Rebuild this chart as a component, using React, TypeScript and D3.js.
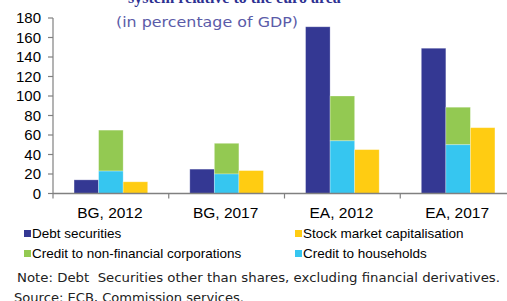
import React, { useRef, useEffect } from 'react'
import * as d3 from 'd3'

const categories = ['BG, 2012', 'BG, 2017', 'EA, 2012', 'EA, 2017']
const debtSecurities = [14, 25, 171, 149]
const creditHouseholds = [23, 20, 54, 50]
const creditCorporations = [42, 31.5, 46, 38.5]
const stockMarket = [12, 23.5, 45, 67.5]
const yTicks = [0, 20, 40, 60, 80, 100, 120, 140, 160, 180]

const colors = {
  debt: '#343893',
  corp: '#93c952',
  house: '#36c6f0',
  stock: '#ffcc12'
}

const legendItems = [
  { label: 'Debt securities', color: colors.debt, col: 0, row: 0 },
  { label: 'Stock market capitalisation', color: colors.stock, col: 1, row: 0 },
  { label: 'Credit to non-financial corporations', color: colors.corp, col: 0, row: 1 },
  { label: 'Credit to households', color: colors.house, col: 1, row: 1 }
]

const W = 507
const H = 301
const margin = { left: 53, top: 18, bottom: 193.5 }
const plotRight = 516

const App: React.FC = () => {
  const svgRef = useRef<SVGSVGElement>(null)

  useEffect(() => {
    if (!svgRef.current) return
    const svg = d3.select(svgRef.current)
    svg.selectAll('*').remove()

    const x = d3.scaleBand<string>()
      .domain(categories)
      .range([margin.left, plotRight])
      .paddingInner(0)
      .paddingOuter(0)
    const barW = x.bandwidth() * 0.212
    const inner = d3.scaleBand<string>()
      .domain(['debt', 'credit', 'stock'])
      .range([0, barW * 3])
    const groupOffset = (x.bandwidth() - barW * 3) / 2

    const y = d3.scaleLinear().domain([0, 180]).range([margin.bottom, margin.top])

    // title (cut off at top)
    svg.append('text')
      .attr('x', 128).attr('y', 3)
      .style('font-family', '"Liberation Serif", serif')
      .style('font-weight', 'bold')
      .style('font-size', '16px')
      .style('fill', '#2e3192')
      .text('system relative to the euro area')

    svg.append('text')
      .attr('x', 116).attr('y', 27)
      .style('font-family', '"DejaVu Sans", sans-serif')
      .style('font-size', '14.5px')
      .style('fill', '#5b5ba8')
      .attr('textLength', 182)
      .attr('lengthAdjust', 'spacingAndGlyphs')
      .text('(in percentage of GDP)')

    // y axis
    const yAxis = svg.append('g')
    yAxis.append('line')
      .attr('x1', margin.left).attr('x2', margin.left)
      .attr('y1', y(180)).attr('y2', y(0))
      .attr('stroke', '#808080').attr('stroke-width', 1.2)
    yTicks.forEach(t => {
      yAxis.append('line')
        .attr('x1', margin.left - 5).attr('x2', margin.left)
        .attr('y1', y(t)).attr('y2', y(t))
        .attr('stroke', '#808080').attr('stroke-width', 1.2)
      yAxis.append('text')
        .attr('x', 41).attr('y', y(t))
        .attr('dy', '0.35em')
        .attr('text-anchor', 'end')
        .style('font-family', '"Liberation Sans", Arial, sans-serif')
        .style('font-size', '15px')
        .style('fill', '#000')
        .text(t)
    })

    // bars
    const bars = svg.append('g')
    categories.forEach((c, i) => {
      const gx = (x(c) || 0) + groupOffset
      const rect = (key: string, v0: number, v1: number, color: string) => {
        bars.append('rect')
          .attr('x', gx + (inner(key) || 0))
          .attr('y', y(v1))
          .attr('width', inner.bandwidth())
          .attr('height', y(v0) - y(v1))
          .attr('fill', color)
          .attr('stroke', '#ffffff')
          .attr('stroke-opacity', 0.35)
          .attr('stroke-width', 0.8)
      }
      rect('debt', 0, debtSecurities[i], colors.debt)
      rect('credit', creditHouseholds[i], creditHouseholds[i] + creditCorporations[i], colors.corp)
      rect('credit', 0, creditHouseholds[i], colors.house)
      rect('stock', 0, stockMarket[i], colors.stock)
    })

    // x axis
    const xAxis = svg.append('g')
    xAxis.append('line')
      .attr('x1', margin.left).attr('x2', plotRight)
      .attr('y1', y(0)).attr('y2', y(0))
      .attr('stroke', '#808080').attr('stroke-width', 1.5)
    categories.forEach((c, i) => {
      const x0 = x(c) || 0
      if (i > 0) {
        xAxis.append('line')
          .attr('x1', x0).attr('x2', x0)
          .attr('y1', y(0)).attr('y2', y(0) + 5)
          .attr('stroke', '#808080').attr('stroke-width', 1.2)
      }
      xAxis.append('text')
        .attr('x', x0 + x.bandwidth() / 2 - 1)
        .attr('y', 213)
        .attr('dy', '0.35em')
        .attr('text-anchor', 'middle')
        .style('font-family', '"Liberation Sans", Arial, sans-serif')
        .style('font-size', '15.5px')
        .text(c)
    })
    xAxis.append('line')
      .attr('x1', margin.left).attr('x2', margin.left)
      .attr('y1', y(0)).attr('y2', y(0) + 5)
      .attr('stroke', '#808080').attr('stroke-width', 1.2)

    // legend
    const legend = svg.append('g')
    legendItems.forEach(d => {
      const lx = d.col === 0 ? 24 : 295
      const ly = d.row === 0 ? 233.5 : 253.5
      legend.append('rect')
        .attr('x', lx).attr('y', ly - 3.5)
        .attr('width', 7).attr('height', 7)
        .attr('fill', d.color)
      legend.append('text')
        .attr('x', lx + 8).attr('y', ly)
        .attr('dy', '0.35em')
        .style('font-family', '"Liberation Sans", Arial, sans-serif')
        .style('font-size', '13.5px')
        .text(d.label)
    })

    // notes
    svg.append('text')
      .attr('x', 17).attr('y', 277)
      .attr('dy', '0.35em')
      .style('font-family', '"DejaVu Sans", sans-serif')
      .style('font-size', '13px')
      .style('fill', '#222')
      .style('white-space', 'pre')
      .attr('textLength', 483)
      .attr('lengthAdjust', 'spacingAndGlyphs')
      .text('Note: Debt  Securities other than shares, excluding financial derivatives.')
    svg.append('text')
      .attr('x', 14).attr('y', 297)
      .attr('dy', '0.35em')
      .style('font-family', '"DejaVu Sans", sans-serif')
      .style('font-size', '13px')
      .style('fill', '#222')
      .attr('textLength', 230)
      .attr('lengthAdjust', 'spacingAndGlyphs')
      .text('Source: ECB, Commission services.')
  }, [])

  return (
    <svg
      ref={svgRef}
      width={W}
      height={H}
      style={{ position: 'absolute', left: 0, top: 0, background: '#fff' }}
    />
  )
}

export default App
